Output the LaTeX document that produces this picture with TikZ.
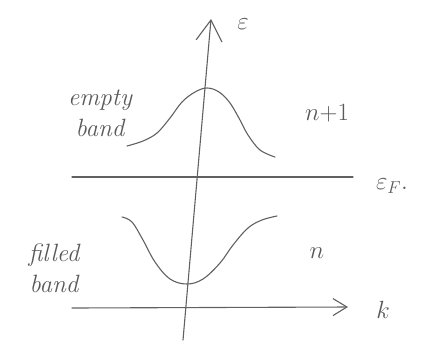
\documentclass[tikz,border=0pt]{standalone}
\usetikzlibrary{arrows.meta}
\begin{document}
\begin{tikzpicture}[x=1pt,y=-1pt,
  pen/.style={draw=black!62, line width=1.1pt, line cap=round, line join=round},
  hand/.style={text=black!65, font=\fontsize{25}{31}\selectfont\itshape, inner sep=0pt, align=center},
  handm/.style={text=black!65, font=\fontsize{26}{26}\selectfont, inner sep=0pt}]
\useasboundingbox (0,0) rectangle (422,349);
% axes
\coordinate (ebot) at (183,340);
\coordinate (etop) at (211,19);
\coordinate (kleft) at (72,308);
\coordinate (kright) at (348,307);
\coordinate (fleft) at (72,177);
\coordinate (fright) at (353,177);
\draw[pen, -{Straight Barb[length=21pt,width=26pt,line width=1.1pt]}] (ebot) -- (etop);
\draw[pen, -{Straight Barb[length=14pt,width=17pt,line width=1.1pt]}] (kleft) -- (kright);
\draw[pen] (fleft) -- (fright);
% bands
\draw[pen] plot[smooth, tension=0.6] coordinates {(127,146) (143,141) (157,133) (170,118) (182,102) (195,92) (207,88) (219,92) (230,103) (240,120) (248,135) (260,150) (275,157)};
\draw[pen] plot[smooth, tension=0.6] coordinates {(122,217) (132,222) (143,240) (155,262) (170,279) (187,284) (203,279) (220,263) (233,245) (248,228) (262,220) (277,216)};
% labels
\node[handm] (eps) at (243,24) {$\varepsilon$};
\node[handm] (epsF) at (392,186) {$\varepsilon_{F}.$};
\node[handm] (kl) at (383,310) {$k$};
\node[hand] (empty) at (100,113) {empty\\band};
\node[hand] (filled) at (54,268) {filled\\band};
\node[handm] (np1) at (327,113) {$n{+}1$};
\node[handm] (nl) at (317,253) {$n$};
\end{tikzpicture}
\end{document}
